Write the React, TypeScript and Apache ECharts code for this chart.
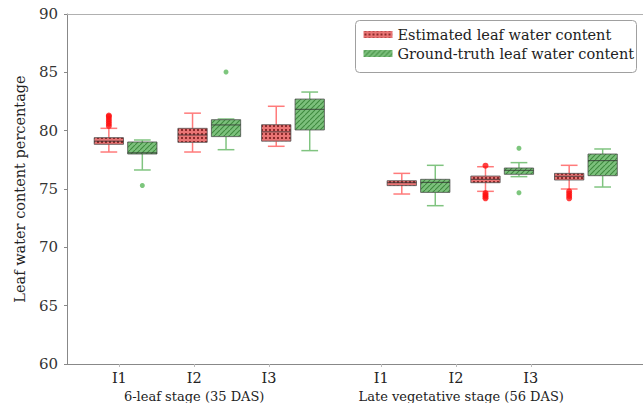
import React, { useEffect, useRef } from "react";
import * as echarts from "echarts";

// ---- data ----
const groupNames = ["6-leaf stage (35 DAS)", "Late vegetative stage (56 DAS)"];
const groupCenters = [1, 4.57];
const treatmentNames = ["I1", "I2", "I3", "I1", "I2", "I3"];
const slotPositions = [0, 1, 2, 3.5, 4.5, 5.5];
const yTicks = { min: 60, max: 90, step: 5 };
const seriesNames = ["Estimated leaf water content", "Ground-truth leaf water content"];

// [lower whisker, Q1, median, Q3, upper whisker]
const estimatedStats = [
  [78.17, 78.83, 79.1, 79.4, 80.2],
  [78.17, 79.0, 79.63, 80.2, 81.5],
  [78.66, 79.1, 79.9, 80.51, 82.09],
  [74.57, 75.29, 75.54, 75.71, 76.34],
  [74.8, 75.54, 75.83, 76.11, 76.91],
  [75.0, 75.77, 76.09, 76.34, 77.03],
];
const groundTruthStats = [
  [76.63, 78.0, 78.1, 79.03, 79.2],
  [78.37, 79.49, 80.49, 80.94, 81.0],
  [78.29, 80.06, 81.83, 82.71, 83.31],
  [73.57, 74.71, 75.57, 75.83, 77.03],
  [76.06, 76.26, 76.6, 76.8, 77.26],
  [75.17, 76.14, 77.43, 78.0, 78.43],
];
// [slot index, value]
const estimatedOutliers = [
  [0, 80.4], [0, 80.6], [0, 80.8], [0, 81.0], [0, 81.2], [0, 81.3],
  [4, 77.0], [4, 74.2], [4, 74.35], [4, 74.5], [4, 74.65],
  [5, 74.2], [5, 74.4], [5, 74.6], [5, 74.8],
];
const groundTruthOutliers = [
  [0, 75.3], [1, 85.03], [4, 78.49], [4, 74.68],
];

// ---- layout constants ----
const GREEN_OFFSET = 0.4;
const BOX_W = 0.35;
const CAP_W = 0.2;
const FONT = '"DejaVu Serif", serif';

function dotPattern() {
  const c = document.createElement("canvas");
  c.width = 4; c.height = 4;
  const ctx = c.getContext("2d")!;
  ctx.fillStyle = "#e97474";
  ctx.fillRect(0, 0, 4, 4);
  ctx.fillStyle = "#8c2b2b";
  ctx.fillRect(1, 1, 2, 2);
  return { image: c, repeat: "repeat", imageWidth: 4, imageHeight: 4 };
}
function hatchPattern() {
  const s = 5;
  const c = document.createElement("canvas");
  c.width = s; c.height = s;
  const ctx = c.getContext("2d")!;
  ctx.fillStyle = "#7cc07c";
  ctx.fillRect(0, 0, s, s);
  ctx.strokeStyle = "#3f8a3f";
  ctx.lineWidth = 1.1;
  ctx.beginPath();
  ctx.moveTo(-1, s + 1); ctx.lineTo(s + 1, -1);
  ctx.moveTo(-s, s); ctx.lineTo(0, 0);
  ctx.moveTo(s, 2 * s); ctx.lineTo(2 * s, s);
  ctx.stroke();
  return { image: c, repeat: "repeat", imageWidth: s, imageHeight: s };
}

function boxSeries(name: string, stats: number[][], offset: number, fill: any, whisker: string) {
  return {
    type: "custom",
    name,
    xAxisIndex: 0,
    yAxisIndex: 0,
    z: 3,
    data: stats.map((s, i) => [slotPositions[i] + offset, ...s]),
    encode: { x: 0, y: [1, 2, 3, 4, 5] },
    renderItem: (params: any, api: any) => {
      const x = api.value(0);
      const lo = api.coord([x, api.value(1)]);
      const q1 = api.coord([x, api.value(2)]);
      const med = api.coord([x, api.value(3)]);
      const q3 = api.coord([x, api.value(4)]);
      const hi = api.coord([x, api.value(5)]);
      const cx = lo[0];
      const hw = api.size([BOX_W, 0])[0] / 2;
      const cw = api.size([CAP_W, 0])[0] / 2;
      const ws = { stroke: whisker, lineWidth: 1.5 };
      return {
        type: "group",
        children: [
          { type: "line", shape: { x1: cx, y1: hi[1], x2: cx, y2: q3[1] }, style: ws },
          { type: "line", shape: { x1: cx, y1: lo[1], x2: cx, y2: q1[1] }, style: ws },
          { type: "line", shape: { x1: cx - cw, y1: hi[1], x2: cx + cw, y2: hi[1] }, style: ws },
          { type: "line", shape: { x1: cx - cw, y1: lo[1], x2: cx + cw, y2: lo[1] }, style: ws },
          {
            type: "rect",
            shape: { x: cx - hw, y: q3[1], width: hw * 2, height: q1[1] - q3[1] },
            style: { fill, stroke: "rgba(70,70,70,0.75)", lineWidth: 1 },
          },
          {
            type: "line",
            shape: { x1: cx - hw, y1: med[1], x2: cx + hw, y2: med[1] },
            style: { stroke: "rgba(50,50,50,0.8)", lineWidth: 1 },
          },
        ],
      };
    },
  };
}

function nearestIndex(list: number[], v: number) {
  let idx = 0;
  list.forEach((p, i) => {
    if (Math.abs(p - v) < Math.abs(list[idx] - v)) idx = i;
  });
  return idx;
}

export default function App() {
  const ref = useRef<HTMLDivElement>(null);
  useEffect(() => {
    if (!ref.current) return;
    const chart = echarts.init(ref.current, null, { renderer: "svg" });
    const red = dotPattern();
    const green = hatchPattern();
    chart.setOption({
      animation: false,
      backgroundColor: "#fff",
      grid: { left: 67, right: 0, top: 14, bottom: 39 },
      xAxis: [
        {
          type: "value",
          min: -0.5,
          max: 6.382,
          position: "top",
          axisLine: { show: true, onZero: false, lineStyle: { color: "#b0b0b0", width: 1 } },
          axisTick: { show: false },
          axisLabel: { show: false },
          splitLine: { show: false },
        },
        {
          type: "value",
          min: -0.7,
          max: 7.0,
          position: "bottom",
          axisLine: { show: true, onZero: false, lineStyle: { color: "#888", width: 1 } },
          axisTick: { show: true, length: 3, customValues: slotPositions, lineStyle: { color: "#bbb" } },
          axisLabel: {
            show: true,
            customValues: slotPositions,
            showMinLabel: true,
            showMaxLabel: true,
            hideOverlap: false,
            margin: 6,
            fontFamily: FONT,
            fontSize: 14.5,
            color: "#222",
            formatter: (v: number) => treatmentNames[nearestIndex(slotPositions, v)],
          },
          splitLine: { show: false },
        },
        {
          type: "value",
          min: -0.7,
          max: 7.0,
          position: "bottom",
          offset: 20,
          axisLine: { show: false, onZero: false },
          axisTick: { show: false },
          axisLabel: {
            show: true,
            customValues: groupCenters,
            showMinLabel: true,
            showMaxLabel: true,
            hideOverlap: false,
            margin: 6,
            fontFamily: FONT,
            fontSize: 13,
            color: "#222",
            formatter: (v: number) => groupNames[nearestIndex(groupCenters, v)],
          },
          splitLine: { show: false },
        },
      ],
      yAxis: {
        type: "value",
        min: yTicks.min,
        max: yTicks.max,
        interval: yTicks.step,
        name: "Leaf water content percentage",
        nameLocation: "middle",
        nameGap: 40,
        nameTextStyle: { fontFamily: FONT, fontSize: 14.5, color: "#222" },
        axisLine: { show: true, onZero: false, lineStyle: { color: "#888", width: 1 } },
        axisTick: { show: true, length: 3, lineStyle: { color: "#888" } },
        axisLabel: { fontFamily: FONT, fontSize: 15, color: "#333", margin: 9 },
        splitLine: { show: false },
      },
      series: [
        boxSeries(seriesNames[0], estimatedStats, 0, red, "#ff7b7b"),
        boxSeries(seriesNames[1], groundTruthStats, GREEN_OFFSET, green, "#80c480"),
        {
          type: "scatter",
          xAxisIndex: 0,
          yAxisIndex: 0,
          z: 4,
          symbolSize: 6,
          itemStyle: { color: "#ff1010" },
          data: estimatedOutliers.map(([i, v]) => [slotPositions[i], v]),
        },
        {
          type: "scatter",
          xAxisIndex: 0,
          yAxisIndex: 0,
          z: 4,
          symbolSize: 5,
          itemStyle: { color: "#5cb85c" },
          data: groundTruthOutliers.map(([i, v]) => [slotPositions[i] + GREEN_OFFSET, v]),
        },
      ],
      graphic: [
        {
          type: "group",
          left: 355,
          top: 20,
          children: [
            {
              type: "rect",
              shape: { x: 0, y: 0, width: 281, height: 52, r: 4 },
              style: { fill: "#fff", stroke: "#a0a0a0", lineWidth: 1 },
            },
            { type: "rect", shape: { x: 8, y: 10.5, width: 29, height: 7 }, style: { fill: red } },
            {
              type: "text",
              x: 42,
              y: 14,
              style: { text: seriesNames[0], font: `14.5px ${FONT}`, fill: "#222", verticalAlign: "middle" },
            },
            { type: "rect", shape: { x: 8, y: 29.5, width: 29, height: 7 }, style: { fill: green } },
            {
              type: "text",
              x: 42,
              y: 33,
              style: { text: seriesNames[1], font: `14.5px ${FONT}`, fill: "#222", verticalAlign: "middle" },
            },
          ],
        },
      ],
    });
    return () => chart.dispose();
  }, []);
  return (
    <div
      ref={ref}
      style={{ position: "fixed", left: 0, top: 0, width: 643, height: 403, background: "#fff" }}
    />
  );
}
